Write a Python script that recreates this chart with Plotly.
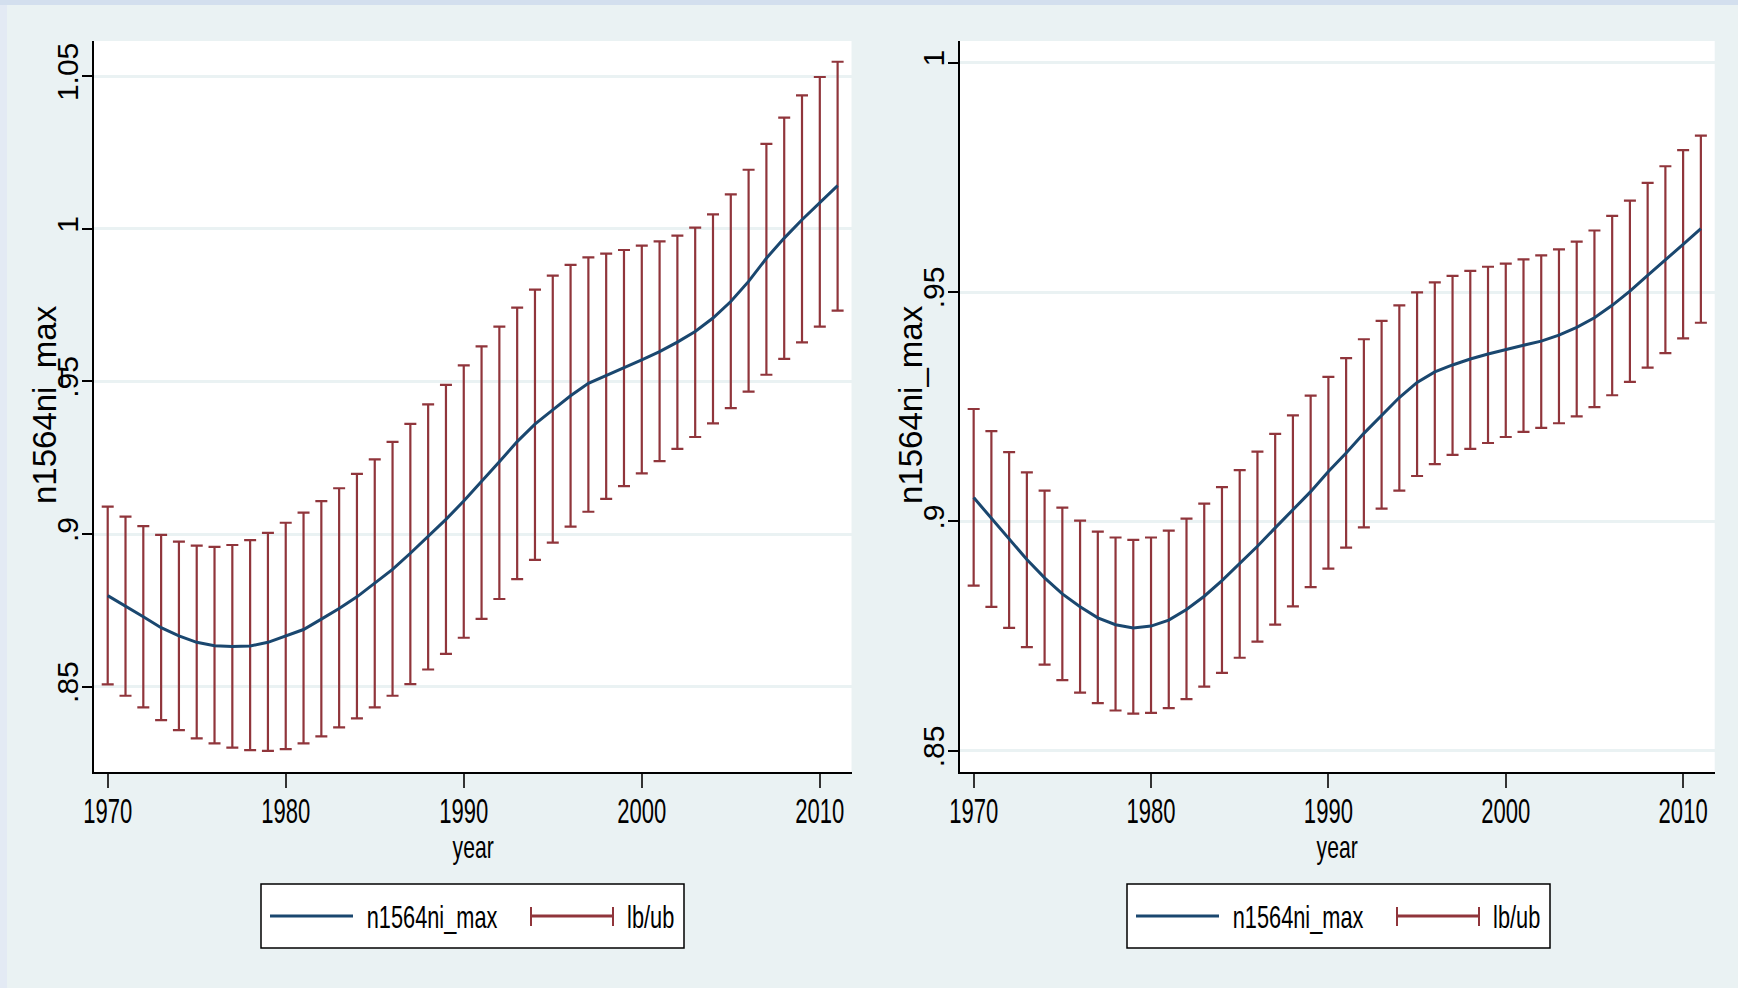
import plotly.graph_objects as go

years = list(range(1970, 2012))

# Left panel
ub_left = [.9090, .9057, .9026, .8997, .8975, .8962, .8958, .8964, .8980, .9004,
           .9037, .9070, .9108, .9150, .9197, .9245, .9302, .9361, .9425, .9489,
           .9553, .9615, .9680, .9742, .9801, .9847, .9882, .9907, .9919, .9931,
           .9945, .9959, .9978, 1.0004, 1.0048, 1.0113, 1.0194, 1.0279, 1.0365, 1.0438,
           1.0498, 1.0548]
lb_left = [.8507, .8470, .8432, .8390, .8357, .8330, .8314, .8300, .8292, .8289,
           .8295, .8314, .8337, .8366, .8396, .8432, .8470, .8508, .8556, .8607,
           .8660, .8722, .8787, .8852, .8915, .8972, .9024, .9073, .9115, .9157,
           .9199, .9239, .9279, .9318, .9363, .9413, .9467, .9522, .9574, .9628,
           .9680, .9732]
est_left = [.8798, .8764, .8729, .8693, .8666, .8645, .8634, .8631, .8633, .8645,
            .8666, .8687, .8721, .8756, .8794, .8838, .8884, .8937, .8991, .9048,
            .9108, .9171, .9237, .9303, .9360, .9407, .9453, .9494, .9519, .9544,
            .9571, .9598, .9629, .9664, .9708, .9762, .9828, .9904, .9970, 1.0030,
            1.0085, 1.0142]

# Right panel
ub_right = [.9245, .9197, .9151, .9107, .9067, .9030, .9002, .8978, .8965, .8960,
            .8965, .8980, .9006, .9039, .9075, .9112, .9152, .9191, .9231, .9274,
            .9315, .9356, .9397, .9437, .9471, .9499, .9521, .9535, .9546, .9555,
            .9562, .9571, .9580, .9593, .9610, .9634, .9666, .9699, .9738, .9774,
            .9809, .9841]
lb_right = [.8860, .8814, .8768, .8726, .8688, .8654, .8627, .8604, .8588, .8581,
            .8583, .8593, .8613, .8640, .8670, .8703, .8738, .8775, .8815, .8857,
            .8897, .8943, .8987, .9028, .9067, .9099, .9125, .9145, .9158, .9171,
            .9184, .9195, .9204, .9214, .9229, .9249, .9275, .9304, .9335, .9367,
            .9399, .9433]
est_right = [.9052, .9007, .8960, .8917, .8877, .8842, .8814, .8790, .8775, .8768,
             .8772, .8785, .8808, .8837, .8871, .8908, .8946, .8986, .9025, .9065,
             .9109, .9149, .9192, .9232, .9270, .9303, .9326, .9341, .9354, .9365,
             .9375, .9384, .9393, .9406, .9423, .9444, .9471, .9502, .9536, .9571,
             .9604, .9638]

x_ticks = [1970, 1980, 1990, 2000, 2010]
y_ticks_left = [.85, .9, .95, 1, 1.05]
y_text_left = [".85", ".9", ".95", "1", "1.05"]
y_ticks_right = [.85, .9, .95, 1]
y_text_right = [".85", ".9", ".95", "1"]

series_name = "n1564ni_max"
ci_name = "lb/ub"
x_title = "year"

NAVY = "#1A476F"
MAROON = "#90353B"
BG = "#EAF2F3"
W, H = 1738, 988
FONT = "Liberation Sans, Arial, sans-serif"

fig = go.Figure()

def add_panel(ub, lb, est, xa, ya):
    fig.add_trace(go.Scatter(
        x=years, y=lb, mode="markers", name=ci_name, xaxis=xa, yaxis=ya,
        marker=dict(size=1, color="rgba(0,0,0,0)"),
        error_y=dict(type="data", symmetric=False,
                     array=[u - l for u, l in zip(ub, lb)],
                     arrayminus=[0] * len(lb),
                     color=MAROON, thickness=2.2, width=6),
        showlegend=False, hoverinfo="skip"))
    fig.add_trace(go.Scatter(
        x=years, y=est, mode="lines", name=series_name, xaxis=xa, yaxis=ya,
        line=dict(color=NAVY, width=3), showlegend=False))

add_panel(ub_left, lb_left, est_left, "x", "y")
add_panel(ub_right, lb_right, est_right, "x2", "y2")

ydom = [216 / H, 947 / H]
xdom1 = [94 / W, 851.5 / W]
xdom2 = [960 / W, 1714.7 / W]

def xaxis(dom, anchor):
    return dict(domain=dom, anchor=anchor, range=[1969.23, 2011.78], automargin=False,
                tickvals=x_ticks, ticks="outside", ticklen=14, tickwidth=1.5,
                tickcolor="#333333", showline=True, linecolor="black", linewidth=2,
                showgrid=False, zeroline=False, ticklabelstandoff=-7,
                tickfont=dict(family=FONT, size=35, color="black"))

def yaxis(rng, tv, tt, anchor):
    return dict(domain=ydom, anchor=anchor, range=rng, tickvals=tv, ticktext=tt,
                automargin=False,
                ticks="outside", ticklen=10, tickwidth=1.5, tickcolor="black",
                showline=True, linecolor="black", linewidth=2,
                showgrid=True, gridcolor=BG, gridwidth=3, zeroline=False,
                tickangle=-90, ticklabelstandoff=-8,
                tickfont=dict(family=FONT, size=30, color="black"))

fig.update_layout(
    width=W, height=H, margin=dict(l=0, r=0, t=0, b=0, pad=0),
    paper_bgcolor=BG, plot_bgcolor="white", showlegend=False,
    xaxis=xaxis(xdom1, "y"), yaxis=yaxis([0.8220, 1.0616], y_ticks_left, y_text_left, "x"),
    xaxis2=xaxis(xdom2, "y2"), yaxis2=yaxis([0.8454, 1.0047], y_ticks_right, y_text_right, "x2"),
)

def px(x):
    return x / W

def py(y):
    return 1 - y / H

shapes = [
    dict(type="rect", xref="paper", yref="paper", x0=0, x1=1, y0=py(5), y1=1,
         fillcolor="#D3DFEE", line=dict(width=0), layer="below"),
    dict(type="rect", xref="paper", yref="paper", x0=0, x1=px(7), y0=0, y1=py(5),
         fillcolor="#E3EAF4", line=dict(width=0), layer="below"),
]
annotations = []
legend_font = dict(family=FONT, size=32, color="black")
for dx in (0, 866):
    shapes.append(dict(type="rect", xref="paper", yref="paper",
                       x0=px(261 + dx), x1=px(684 + dx), y0=py(948), y1=py(884),
                       fillcolor="white", line=dict(color="black", width=1.5)))
    shapes.append(dict(type="line", xref="paper", yref="paper",
                       x0=px(270 + dx), x1=px(353 + dx), y0=py(916), y1=py(916),
                       line=dict(color=NAVY, width=3)))
    shapes.append(dict(type="line", xref="paper", yref="paper",
                       x0=px(531 + dx), x1=px(613 + dx), y0=py(916), y1=py(916),
                       line=dict(color=MAROON, width=3)))
    for cx in (531, 613):
        shapes.append(dict(type="line", xref="paper", yref="paper",
                           x0=px(cx + dx), x1=px(cx + dx), y0=py(907), y1=py(926),
                           line=dict(color=MAROON, width=2)))
# legend texts (indices 0-3)
for dx in (0, 866):
    annotations.append(dict(xref="paper", yref="paper", x=px(432 + dx), y=py(917),
                            text=series_name, showarrow=False, xanchor="center",
                            yanchor="middle", font=legend_font))
    annotations.append(dict(xref="paper", yref="paper", x=px(650 + dx), y=py(917),
                            text=ci_name, showarrow=False, xanchor="center",
                            yanchor="middle", font=legend_font))
# x titles (indices 4-5)
for cx in (473, 1337):
    annotations.append(dict(xref="paper", yref="paper", x=px(cx), y=py(847),
                            text=x_title, showarrow=False, xanchor="center",
                            yanchor="middle", font=dict(family=FONT, size=32, color="black")))
# y titles (indices 6-7)
for cx in (44, 910):
    annotations.append(dict(xref="paper", yref="paper", x=px(cx), y=py(405),
                            text=series_name, showarrow=False, textangle=-90,
                            xanchor="center", yanchor="middle",
                            font=dict(family=FONT, size=33, color="black")))

fig.update_layout(shapes=shapes, annotations=annotations)

post = """
document.body.style.margin = '0';
document.body.style.padding = '0';
document.body.style.overflow = 'hidden';
var gd = document.getElementById('{plot_id}');
function cond(sel, f) {
  gd.querySelectorAll(sel).forEach(function(t) {
    var L = t.getComputedTextLength();
    if (L > 0) {
      t.setAttribute('textLength', (L * f).toFixed(2));
      t.setAttribute('lengthAdjust', 'spacingAndGlyphs');
    }
  });
}
cond('g.xtick text, g.x2tick text', 0.63);
cond('g.annotation[data-index="4"] text, g.annotation[data-index="5"] text', 0.66);
cond('g.annotation[data-index="0"] text, g.annotation[data-index="1"] text, g.annotation[data-index="2"] text, g.annotation[data-index="3"] text', 0.68);
"""

fig.write_html("out.html", post_script=post, config={"displayModeBar": False})
